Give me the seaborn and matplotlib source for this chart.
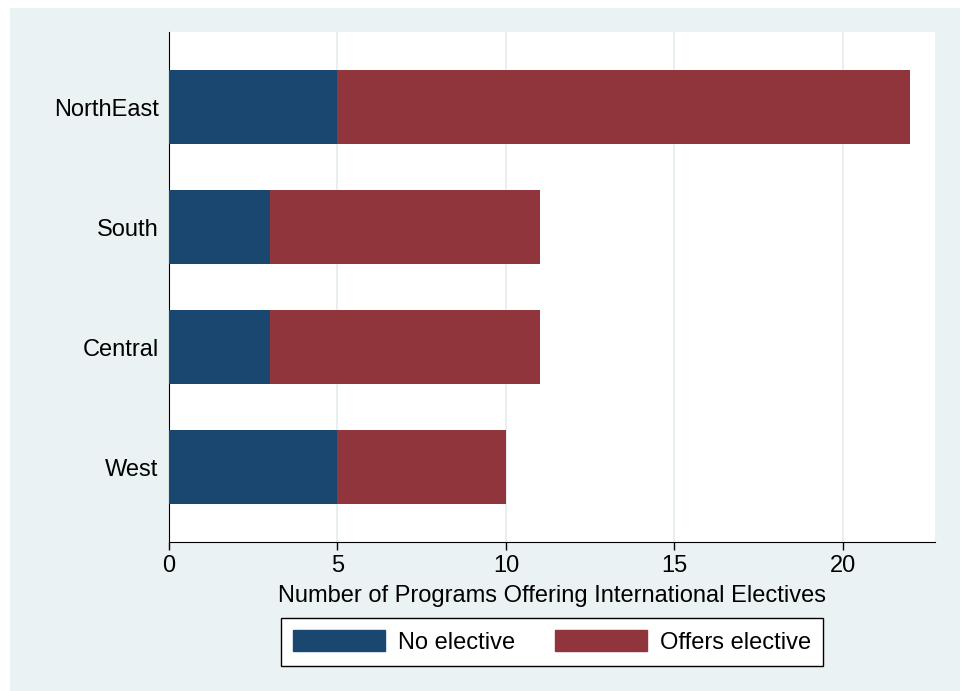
import pandas as pd
import matplotlib.pyplot as plt
import matplotlib.patches as mpatches
import seaborn as sns

# data
regions = ["NorthEast", "South", "Central", "West"]
no_elective = [5, 3, 3, 5]
offers_elective = [17, 8, 8, 5]

datos = pd.DataFrame({"region": regions,
                      "no": no_elective,
                      "offers": offers_elective})
datos["total"] = datos["no"] + datos["offers"]

navy = "#1A476F"
maroon = "#90353B"
fondo = "#EAF2F3"

sns.set_style("white")
plt.rcParams["font.family"] = ["Liberation Sans", "DejaVu Sans"]
plt.rcParams["text.color"] = "black"
plt.rcParams["axes.labelcolor"] = "black"
plt.rcParams["xtick.color"] = "black"
plt.rcParams["ytick.color"] = "black"

fig = plt.figure(figsize=(9.63, 6.91), dpi=100, facecolor="white")
# stata-like outer panel
fig.patches.append(mpatches.Rectangle((10 / 963, 0), 950 / 963, 1 - 8 / 691,
                                      transform=fig.transFigure, facecolor=fondo,
                                      edgecolor="none", zorder=-10))
ax = fig.add_axes([169 / 963, 1 - 542 / 691, 766 / 963, 510 / 691])
ax.set_facecolor("white")

sns.barplot(data=datos, x="total", y="region", color=maroon, width=0.61,
            saturation=1, linewidth=0, ax=ax, zorder=2)
sns.barplot(data=datos, x="no", y="region", color=navy, width=0.61,
            saturation=1, linewidth=0, ax=ax, zorder=3)

ax.set_xlim(0, 22.73)
ax.set_ylim(3.625, -0.625)
ax.set_xticks([0, 5, 10, 15, 20])
ax.xaxis.grid(True, color="#E3ECEE", linewidth=1.2, zorder=0)
ax.set_axisbelow(True)
for lado in ["top", "right"]:
    ax.spines[lado].set_visible(False)
ax.spines["left"].set_color("black")
ax.spines["bottom"].set_color("black")
ax.tick_params(axis="x", bottom=True, length=6, width=1, color="black",
               labelsize=17, pad=3)
ax.tick_params(axis="y", left=False, labelsize=17, pad=4)
ax.set_ylabel("")
ax.set_xlabel("Number of Programs Offering International Electives",
              fontsize=17, labelpad=6)

handles = [mpatches.Patch(color=navy, label="No elective"),
           mpatches.Patch(color=maroon, label="Offers elective")]
leg = fig.legend(handles=handles, loc="center", bbox_to_anchor=(552 / 963, 1 - 642 / 691),
                 ncol=2, fontsize=17, frameon=True, fancybox=False,
                 handlelength=3.9, handleheight=1.0, handletextpad=0.55,
                 columnspacing=1.7, borderpad=0.5, borderaxespad=0)
leg.get_frame().set_edgecolor("black")
leg.get_frame().set_linewidth(1)
leg.get_frame().set_facecolor("white")
leg.get_frame().set_alpha(1)

plt.savefig("out.png", dpi=100, facecolor="white")
